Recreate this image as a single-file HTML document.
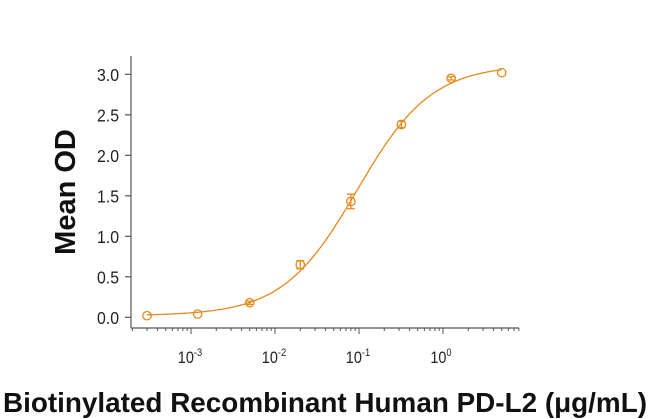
<!DOCTYPE html>
<html><head><style>html,body{margin:0;padding:0;background:#fff;}svg{display:block}</style></head>
<body>
<svg id="s" width="650" height="419" xmlns="http://www.w3.org/2000/svg" font-family="Liberation Sans, sans-serif">
<g stroke="#555" stroke-width="1.2" fill="none">
<line x1="131" y1="56" x2="131" y2="328"/>
<line x1="131" y1="328" x2="519" y2="328"/>
</g>
<g id="yt" stroke="#555" stroke-width="1.2"></g>
<g id="xt" stroke="#555" stroke-width="1"></g>
<g font-size="18" fill="#222" text-anchor="end" id="yl"></g>
<g font-size="17" fill="#222" text-anchor="middle">
<text x="190" y="363" transform="translate(190,0) scale(0.85,1) translate(-190,0)">10<tspan font-size="11" dy="-7">-3</tspan></text>
<text x="274" y="363" transform="translate(274,0) scale(0.85,1) translate(-274,0)">10<tspan font-size="11" dy="-7">-2</tspan></text>
<text x="358" y="363" transform="translate(358,0) scale(0.85,1) translate(-358,0)">10<tspan font-size="11" dy="-7">-1</tspan></text>
<text x="441" y="363" transform="translate(441,0) scale(0.85,1) translate(-441,0)">10<tspan font-size="11" dy="-7">0</tspan></text>
</g>
<text transform="translate(75,192) rotate(-90)" text-anchor="middle" font-size="29" font-weight="bold" fill="#111">Mean OD</text>
<text x="3" y="412" font-size="28" font-weight="bold" fill="#111" textLength="644" lengthAdjust="spacingAndGlyphs">Biotinylated Recombinant Human PD-L2 (μg/mL)</text>
<path id="curve" fill="none" stroke="#E8891C" stroke-width="1.3"/>
<g id="pts" stroke="#E8891C" stroke-width="1.3" fill="none"></g>
</svg>
<script>
var NS="http://www.w3.org/2000/svg";
function el(p,t,a,txt){var e=document.createElementNS(NS,t);for(var k in a)e.setAttribute(k,a[k]);if(txt)e.textContent=txt;document.getElementById(p).appendChild(e);return e;}
function X(v){return 443+84*Math.log10(v);}
function Y(v){return 317.3-v*81;}
for(var i=0;i<=6;i++){var y=Y(i*0.5);el("yt","line",{x1:125,y1:y,x2:131,y2:y});var t=el("yl","text",{x:119,y:y+6.5},(i*0.5).toFixed(1));t.setAttribute("transform","translate(119,0) scale(0.88,1) translate(-119,0)");}
for(var d=-4;d<=0;d++){for(var m=1;m<10;m++){var v=m*Math.pow(10,d);var x=X(v);if(x<131||x>519)continue;el("xt","line",{x1:x,y1:328,x2:x,y2:m==1?334:331});}}
function f(x){return 0.02+3.1/(1+Math.pow(0.095/x,0.98));}
var d="";for(var lx=Math.log10(0.0003);lx<=Math.log10(5)+0.001;lx+=0.02){var x=Math.pow(10,lx);d+=(d?"L":"M")+X(x).toFixed(1)+","+Y(f(x)).toFixed(1);}
document.getElementById("curve").setAttribute("d",d);
var P=[[0.0003,0.02,0],[0.0012,0.04,0],[0.005,0.18,0.02],[0.02,0.65,0.05],[0.08,1.43,0.09],[0.32,2.38,0.04],[1.25,2.95,0.02],[5,3.02,0.01]];
P.forEach(function(p){var x=X(p[0]),y=Y(p[1]);el("pts","circle",{cx:x,cy:y,r:4.2});if(p[2]>0.015){var e=p[2]*81;el("pts","path",{d:"M"+x+","+(y-e)+"V"+(y+e)+"M"+(x-4)+","+(y-e)+"h8M"+(x-4)+","+(y+e)+"h8"});}});
</script>
</body></html>
